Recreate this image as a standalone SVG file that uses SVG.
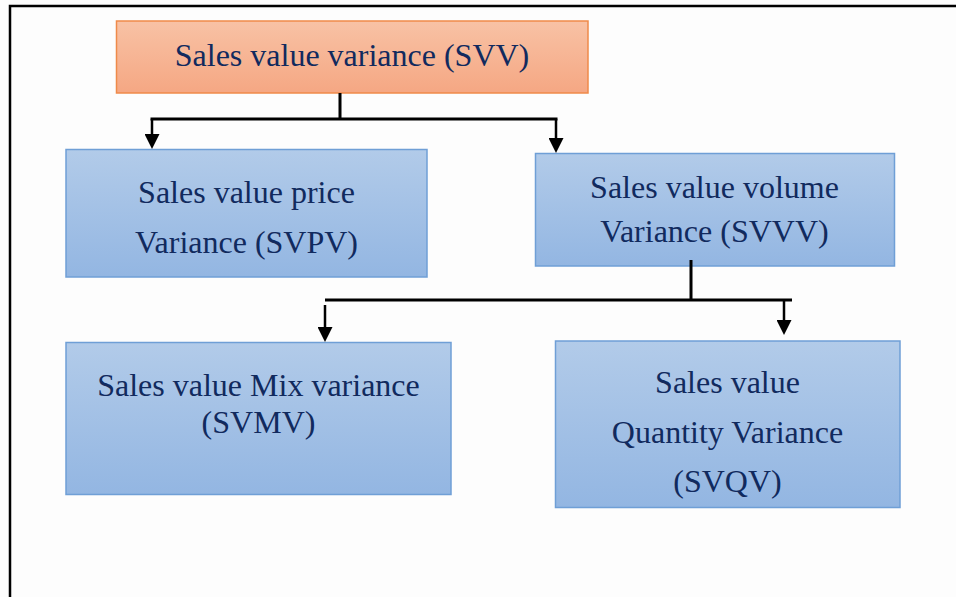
<svg xmlns="http://www.w3.org/2000/svg" width="956" height="597" viewBox="0 0 956 597">
  <style>
    .t { font-family: "Liberation Serif", "Times New Roman", serif; font-size: 32px; fill: #112a5e; text-anchor: middle; }
    .blue { fill: url(#gBlue); stroke: #6f9fd6; stroke-width: 1.5; }
    .orange { fill: url(#gOrange); stroke: #ef8a4a; stroke-width: 1.5; }
    .line { fill: none; stroke: #000; stroke-width: 3; }
    .shaft { fill: none; stroke: #000; stroke-width: 2.5; marker-end: url(#arrow); }
    .frame { fill: none; stroke: #000; stroke-width: 2.5; }
  </style>
  <defs>
    <linearGradient id="gBlue" x1="0" y1="0" x2="0" y2="1">
      <stop offset="0" stop-color="#b2cbe9"/>
      <stop offset="1" stop-color="#93b6e2"/>
    </linearGradient>
    <linearGradient id="gOrange" x1="0" y1="0" x2="0" y2="1">
      <stop offset="0" stop-color="#f8c2a5"/>
      <stop offset="1" stop-color="#f5a783"/>
    </linearGradient>
    <marker id="arrow" markerUnits="userSpaceOnUse" markerWidth="15" markerHeight="15" refX="5" refY="7.5" orient="auto">
      <path d="M0,0 L15,7.5 L0,15 Z" fill="#000"/>
    </marker>
  </defs>

  <rect width="956" height="597" fill="#fdfdfd"/>

  <!-- outer frame (top and left edges) -->
  <path class="frame" d="M10,597 V6 H956"/>

  <g id="svv">
    <rect class="orange" x="116.5" y="21" width="471.5" height="72"/>
    <text class="t" x="352" y="66">Sales value variance (SVV)</text>
  </g>

  <g id="svpv">
    <rect class="blue" x="66" y="149.5" width="361" height="127.5"/>
    <text class="t" x="246.5" y="203">Sales value price</text>
    <text class="t" x="246.5" y="253">Variance (SVPV)</text>
  </g>

  <g id="svvv">
    <rect class="blue" x="535.5" y="153.5" width="359" height="112.5"/>
    <text class="t" x="714.5" y="198">Sales value volume</text>
    <text class="t" x="714.5" y="242">Variance (SVVV)</text>
  </g>

  <g id="svmv">
    <rect class="blue" x="66" y="342.5" width="385" height="152"/>
    <text class="t" x="258.5" y="396">Sales value Mix variance</text>
    <text class="t" x="258.5" y="433">(SVMV)</text>
  </g>

  <g id="svqv">
    <rect class="blue" x="555.5" y="341" width="344.5" height="166.5"/>
    <text class="t" x="727.5" y="393">Sales value</text>
    <text class="t" x="727.5" y="443">Quantity Variance</text>
    <text class="t" x="727.5" y="492">(SVQV)</text>
  </g>

  <g id="connectors">
    <path class="line" d="M340,93 V119 M150.5,119 H557.5"/>
    <path class="shaft" d="M152,119 V139"/>
    <path class="shaft" d="M556,119 V143"/>
    <path class="line" d="M691,260 V300 M325,300 H792"/>
    <path class="shaft" d="M325,305 V332"/>
    <path class="shaft" d="M784,301 V325"/>
  </g>
</svg>
